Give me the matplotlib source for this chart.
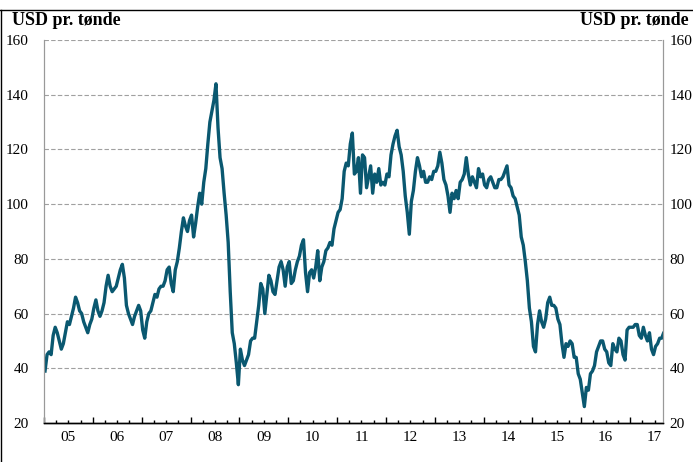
import matplotlib.pyplot as plt
import matplotlib.ticker as mticker
from matplotlib.lines import Line2D
import numpy as np

# Brent oil price, USD per barrel, two readings per month (Jan 2005 - Sep 2017)
p2005 = [39, 45, 46, 45, 52, 55, 53, 50, 47, 49, 53, 57, 56, 59, 62, 66, 64, 61, 60, 57, 55, 53, 56, 58]
p2006 = [62, 65, 61, 59, 61, 64, 70, 74, 70, 68, 69, 70, 73, 76, 78, 73, 63, 60, 58, 56, 59, 61, 63, 61]
p2007 = [54, 51, 57, 60, 61, 64, 67, 66, 69, 70, 70, 72, 76, 77, 71, 68, 76, 79, 84, 90, 95, 92, 90, 94]
p2008 = [96, 88, 93, 99, 104, 100, 108, 113, 122, 130, 134, 138, 144, 128, 117, 113, 104, 96, 86, 68, 53, 49, 42, 34]
p2009 = [47, 43, 41, 43, 45, 50, 51, 51, 57, 63, 71, 69, 60, 67, 74, 72, 68, 67, 72, 77, 79, 76, 70, 77]
p2010 = [79, 71, 72, 76, 79, 81, 85, 87, 75, 68, 75, 76, 73, 77, 83, 72, 77, 79, 83, 84, 86, 85, 91, 94]
p2011 = [97, 98, 102, 112, 115, 114, 122, 126, 111, 112, 117, 104, 118, 117, 106, 110, 114, 104, 111, 108, 113, 107, 108, 107]
p2012 = [111, 110, 118, 122, 125, 127, 121, 118, 112, 103, 97, 89, 101, 105, 112, 117, 114, 110, 112, 108, 108, 110, 109, 112]
p2013 = [112, 114, 119, 115, 109, 107, 103, 97, 104, 102, 105, 102, 108, 109, 111, 117, 111, 107, 110, 108, 106, 113, 110, 111]
p2014 = [107, 106, 109, 110, 108, 106, 106, 109, 109, 110, 112, 114, 107, 106, 103, 102, 99, 96, 88, 85, 79, 72, 62, 57]
p2015 = [48, 46, 56, 61, 57, 55, 58, 64, 66, 63, 63, 62, 58, 56, 49, 44, 49, 48, 50, 49, 44, 44, 38, 36]
p2016 = [31, 26, 33, 32, 38, 39, 41, 46, 48, 50, 50, 47, 46, 42, 41, 49, 47, 46, 51, 50, 45, 43, 54, 55]
p2017 = [55, 55, 56, 56, 52, 51, 55, 52, 50, 53, 47, 45, 48, 49, 51, 51, 53, 54]

prices = p2005 + p2006 + p2007 + p2008 + p2009 + p2010 + p2011 + p2012 + p2013 + p2014 + p2015 + p2016 + p2017
years = np.arange(2005, 2018)
year_labels = ['05', '06', '07', '08', '09', '10', '11', '12', '13', '14', '15', '16', '17']
unit = 'USD pr. tønde'

x = 2005 + (np.arange(len(prices)) + 0.5) / 24

plt.rcParams['font.family'] = ['Liberation Serif', 'DejaVu Serif']

fig = plt.figure(figsize=(6.93, 4.62), dpi=100)
ax = fig.add_axes([0.0635, 0.0844, 0.893, 0.829])

ax.plot(x, prices, color='#0a5870', lw=2.4, solid_joinstyle='round')

ax.set_xlim(2005, 2017.67)
ax.set_ylim(20, 160)

# grid
for v in range(40, 161, 20):
    ax.axhline(v, color='#a0a0a0', lw=0.8, ls=(0, (4, 2)), zorder=0)

# y axes on both sides
ax.yaxis.set_major_locator(mticker.MultipleLocator(20))
ax.tick_params(axis='y', length=0, labelsize=11, pad=11, colors='black')
ax2 = ax.twinx()
ax2.set_ylim(ax.get_ylim())
ax2.yaxis.set_major_locator(mticker.MultipleLocator(20))
ax2.tick_params(axis='y', length=0, labelsize=11, pad=5)

for a in (ax, ax2):
    a.spines['top'].set_visible(False)
    a.spines['left'].set_color('#999999')
    a.spines['right'].set_color('#999999')
    a.spines['bottom'].set_color('black')
    a.spines['bottom'].set_linewidth(1.0)

# x ticks: year boundaries + quarters, pointing into the plot
ax.set_xticks(years)
ax.set_xticklabels([])
ax.xaxis.set_minor_locator(mticker.MultipleLocator(0.25))
ax.tick_params(axis='x', which='major', direction='in', length=4, width=1)
ax.tick_params(axis='x', which='minor', direction='in', length=2.5, width=1)
for yr, lab in zip(years, year_labels):
    ax.text(yr + 0.5, -0.02, lab, transform=ax.get_xaxis_transform(),
            ha='center', va='top', fontsize=11)

# units above both axes
fig.text(0.017, 0.945, unit, ha='left', va='baseline', fontsize=13, fontweight='bold')
fig.text(0.993, 0.945, unit, ha='right', va='baseline', fontsize=13, fontweight='bold')

# frame lines at top and left
fig.add_artist(Line2D([0, 1], [0.978, 0.978], color='black', lw=1, transform=fig.transFigure))
fig.add_artist(Line2D([0.002, 0.002], [0, 0.978], color='black', lw=1, transform=fig.transFigure))

fig.savefig('out.png', dpi=100)
